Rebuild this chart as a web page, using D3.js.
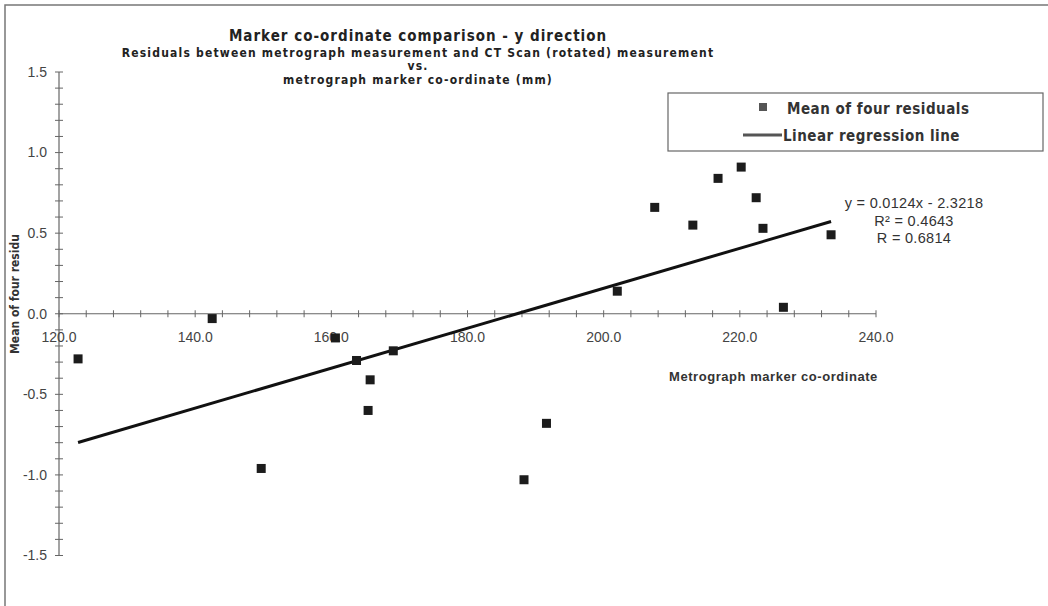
<!DOCTYPE html>
<html>
<head>
<meta charset="utf-8">
<script src="https://cdn.jsdelivr.net/npm/d3@7"></script>
<style>
  html, body { margin: 0; padding: 0; background: #fff; }
  svg { display: block; }
  .narrow { font-family: "Liberation Sans Narrow", "DejaVu Sans Condensed", "Arial Narrow", sans-serif; font-weight: bold; }
  .plain { font-family: "Liberation Sans", Arial, sans-serif; }
</style>
</head>
<body>
<svg id="chart" width="1048" height="606"></svg>
<script>
// Metrograph marker co-ordinate (mm) and mean of four residuals
const markerX = [122.8, 142.5, 149.7, 160.6, 163.7, 165.4, 165.7, 169.1, 188.3, 191.6,
                 202.0, 207.5, 213.1, 216.8, 220.2, 222.4, 223.4, 226.4, 233.4];
const meanResidual = [-0.28, -0.03, -0.96, -0.15, -0.29, -0.60, -0.41, -0.23, -1.03, -0.68,
                      0.14, 0.66, 0.55, 0.84, 0.91, 0.72, 0.53, 0.04, 0.49];

// regression: y = 0.0124x - 2.3218
const slope = 0.0124;
const intercept = -2.3218;
const statLines = ["y = 0.0124x - 2.3218", "R² = 0.4643", "R = 0.6814"];

const xTicks = [120, 140, 160, 180, 200, 220, 240];
const yTicks = [1.5, 1.0, 0.5, 0.0, -0.5, -1.0, -1.5];

const titleLines = [
  "Marker co-ordinate comparison - y direction",
  "Residuals between metrograph measurement and CT Scan (rotated) measurement",
  "vs.",
  "metrograph marker co-ordinate (mm)"
];
const legendLabels = ["Mean of four residuals", "Linear regression line"];

const svg = d3.select("#chart");

const x = d3.scaleLinear().domain([120, 240]).range([59, 876]);
const y = d3.scaleLinear().domain([-1.5, 1.5]).range([555.5, 72]);

// outer frame
svg.append("rect")
  .attr("x", 5).attr("y", 5)
  .attr("width", 1060).attr("height", 640)
  .attr("fill", "none")
  .attr("stroke", "#777")
  .attr("stroke-width", 1.5);

// titles
const titleSizes = [15, 12, 12, 12];
const titleSpacing = [1.0, 1.2, 1.2, 1.2];
const titleY = [41, 57, 70, 84];
svg.append("g")
  .selectAll("text")
  .data(titleLines)
  .join("text")
  .attr("class", "narrow")
  .attr("x", 418)
  .attr("y", (d, i) => titleY[i])
  .attr("text-anchor", "middle")
  .attr("font-size", (d, i) => titleSizes[i])
  .attr("letter-spacing", (d, i) => titleSpacing[i])
  .attr("fill", "#222")
  .text(d => d);

// axes with cross ticks
const axisColor = "#666";
const axes = svg.append("g");

axes.append("line")
  .attr("x1", x(120)).attr("x2", x(240))
  .attr("y1", y(0)).attr("y2", y(0))
  .attr("stroke", axisColor).attr("stroke-width", 1.2);

axes.append("line")
  .attr("x1", x(120)).attr("x2", x(120))
  .attr("y1", y(1.5)).attr("y2", y(-1.5))
  .attr("stroke", axisColor).attr("stroke-width", 1.2);

const xMinor = d3.range(120, 240.01, 4);
axes.append("g")
  .selectAll("line")
  .data(xMinor)
  .join("line")
  .attr("x1", d => x(d)).attr("x2", d => x(d))
  .attr("y1", y(0) - 3.5).attr("y2", y(0) + 3.5)
  .attr("stroke", axisColor).attr("stroke-width", 1);

const yMinor = d3.range(-15, 15.1, 1).map(d => d / 10);
axes.append("g")
  .selectAll("line")
  .data(yMinor)
  .join("line")
  .attr("x1", x(120) - 4).attr("x2", x(120) + 4)
  .attr("y1", d => y(d)).attr("y2", d => y(d))
  .attr("stroke", axisColor).attr("stroke-width", 1);

const fmt = d3.format(".1f");

axes.append("g")
  .selectAll("text")
  .data(xTicks)
  .join("text")
  .attr("class", "plain")
  .attr("x", d => x(d))
  .attr("y", y(0) + 28)
  .attr("text-anchor", "middle")
  .attr("font-size", 14)
  .attr("fill", "#444")
  .text(d => fmt(d));

axes.append("g")
  .selectAll("text")
  .data(yTicks)
  .join("text")
  .attr("class", "plain")
  .attr("x", 47)
  .attr("y", d => y(d))
  .attr("dy", "0.35em")
  .attr("text-anchor", "end")
  .attr("font-size", 14)
  .attr("fill", "#444")
  .text(d => fmt(d).replace("−", "-"));

// axis titles
svg.append("text")
  .attr("class", "plain")
  .attr("x", 669)
  .attr("y", 381)
  .attr("font-size", 13)
  .attr("font-weight", "bold")
  .attr("letter-spacing", 0.55)
  .attr("fill", "#333")
  .text("Metrograph marker co-ordinate");

svg.append("text")
  .attr("class", "narrow")
  .attr("transform", "translate(19,294) rotate(-90)")
  .attr("text-anchor", "middle")
  .attr("font-size", 12)
  .attr("fill", "#333")
  .text("Mean of four residu");

// regression line
const xExtent = d3.extent(markerX);
svg.append("line")
  .attr("x1", x(xExtent[0])).attr("y1", y(slope * xExtent[0] + intercept))
  .attr("x2", x(xExtent[1])).attr("y2", y(slope * xExtent[1] + intercept))
  .attr("stroke", "#111")
  .attr("stroke-width", 3);

// markers
const size = 9;
svg.append("g")
  .selectAll("rect")
  .data(markerX.map((d, i) => ({ x: d, y: meanResidual[i] })))
  .join("rect")
  .attr("x", d => x(d.x) - size / 2)
  .attr("y", d => y(d.y) - size / 2)
  .attr("width", size)
  .attr("height", size)
  .attr("fill", "#1c1c1c");

// regression statistics
svg.append("g")
  .selectAll("text")
  .data(statLines)
  .join("text")
  .attr("class", "plain")
  .attr("x", 914)
  .attr("y", (d, i) => 208 + i * 17.5)
  .attr("text-anchor", "middle")
  .attr("font-size", 14.5)
  .attr("letter-spacing", 0.3)
  .attr("fill", "#333")
  .text(d => d);

// legend
const legend = svg.append("g").attr("transform", "translate(668,93)");
legend.append("rect")
  .attr("width", 375).attr("height", 58)
  .attr("fill", "#fff")
  .attr("stroke", "#666")
  .attr("stroke-width", 1.2);

legend.append("rect")
  .attr("x", 91).attr("y", 10)
  .attr("width", 8).attr("height", 8)
  .attr("fill", "#555");

legend.append("line")
  .attr("x1", 75).attr("x2", 114)
  .attr("y1", 42).attr("y2", 42)
  .attr("stroke", "#555")
  .attr("stroke-width", 3);

legend.selectAll("text.lab")
  .data(legendLabels)
  .join("text")
  .attr("class", "narrow lab")
  .attr("x", (d, i) => i === 0 ? 119 : 115)
  .attr("y", (d, i) => i === 0 ? 21 : 48)
  .attr("font-size", 15)
  .attr("letter-spacing", 0.5)
  .attr("fill", "#333")
  .text(d => d);
</script>
</body>
</html>
